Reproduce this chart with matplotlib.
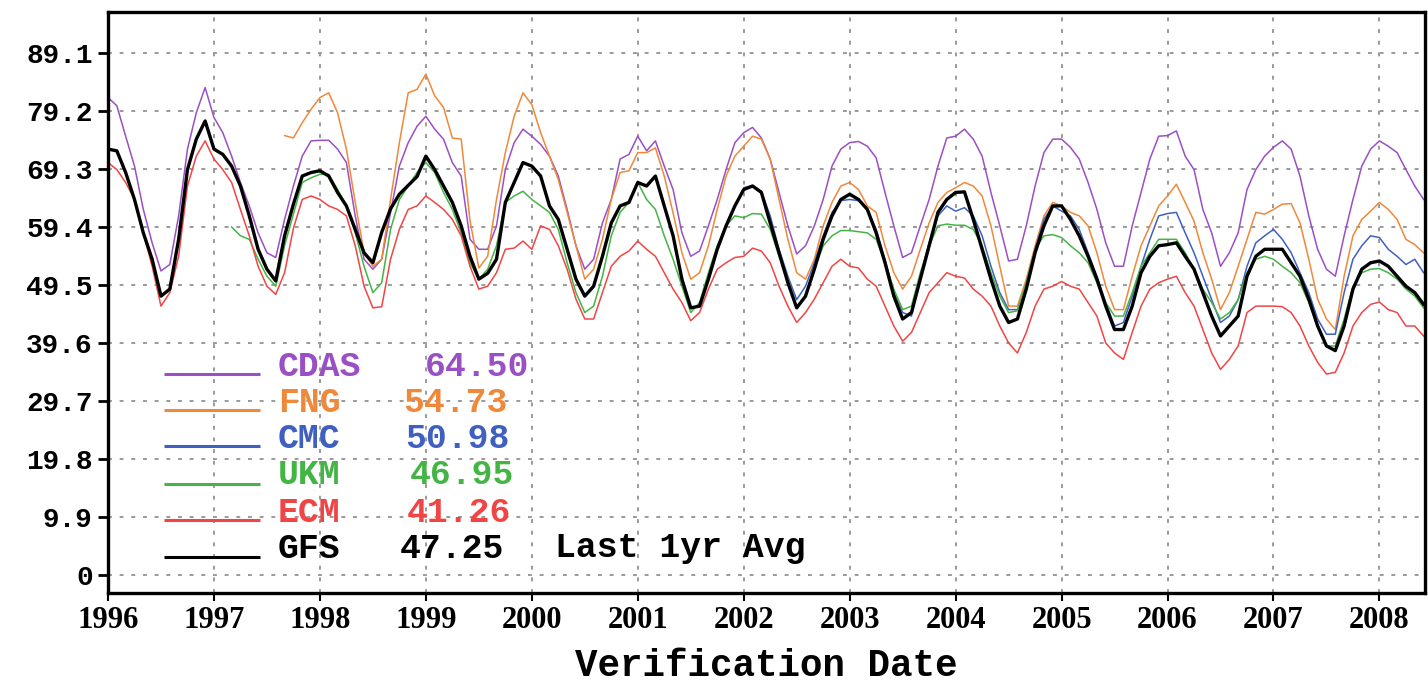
import numpy as np
import matplotlib
matplotlib.use("Agg")
import matplotlib.pyplot as plt

# monthly anomaly-correlation-like scores, Jan 1996 .. May 2008
START_YEAR = 1996
N_MONTHS = 150

CDAS = [81.5, 80.1, 74.9, 69.8, 62.4, 56.7, 51.9, 53.0, 61.3, 72.7, 78.9, 83.2,
        78.1, 75.5, 71.5, 67.0, 63.0, 58.4, 55.0, 54.2, 60.7, 66.4, 71.5, 74.1,
        74.2, 74.2, 72.7, 70.4, 61.3, 53.9, 52.2, 53.9, 61.9, 69.8, 73.8, 76.6,
        78.3, 76.1, 74.4, 70.4, 68.1, 57.3, 55.6, 55.6, 59.6, 69.2, 73.8, 76.1,
        74.9, 73.5, 71.5, 68.1, 62.4, 56.2, 52.2, 53.9, 60.1, 64.1, 71.0, 71.8,
        74.9, 72.4, 74.1, 69.8, 65.8, 58.4, 54.4, 55.3, 59.6, 64.1, 69.2, 73.8,
        75.5, 76.4, 74.6, 71.0, 65.3, 59.6, 54.8, 56.2, 59.6, 64.1, 69.8, 72.7,
        73.8, 74.0, 73.2, 71.2, 65.3, 59.6, 54.2, 55.0, 59.6, 64.1, 69.8, 74.6,
        74.9, 76.1, 74.4, 71.5, 65.3, 59.6, 53.6, 53.9, 59.6, 66.4, 72.1, 74.4,
        74.4, 73.0, 71.0, 67.0, 62.4, 56.7, 52.7, 52.7, 59.6, 65.3, 71.0, 74.9,
        75.0, 75.8, 71.5, 69.2, 62.4, 58.4, 52.7, 55.0, 58.4, 65.8, 69.2, 71.5,
        73.0, 74.1, 72.7, 68.1, 61.3, 55.6, 52.2, 51.0, 57.9, 64.1, 69.8, 72.7,
        74.1, 73.2, 72.1, 69.2, 66.4, 64.1]

FNG_START = 20
FNG = [75.0, 74.6, 77.2, 79.5,
       81.5, 82.3, 78.9, 72.7, 63.6, 55.0, 52.7, 53.9, 64.1, 73.8, 82.3, 82.9,
       85.5, 81.8, 79.8, 74.6, 74.4, 60.5, 52.4, 54.4, 64.1, 72.1, 78.3, 82.3,
       80.3, 75.5, 71.5, 67.5, 61.9, 56.2, 50.5, 52.2, 57.3, 64.1, 68.7, 69.0,
       72.1, 72.1, 72.9, 68.1, 61.8, 55.0, 50.5, 51.6, 56.2, 62.4, 68.1, 71.5,
       73.2, 74.9, 74.4, 71.0, 64.1, 57.3, 51.6, 50.5, 53.9, 59.6, 63.6, 66.4,
       67.0, 65.8, 63.0, 61.9, 56.2, 51.6, 48.8, 51.0, 55.6, 60.1, 63.6, 65.3,
       66.1, 67.0, 66.4, 64.7, 59.6, 52.7, 45.9, 45.9, 50.5, 56.2, 61.3, 63.6,
       63.0, 61.9, 61.3, 59.6, 55.0, 49.3, 45.3, 45.3, 51.0, 56.2, 59.6, 63.0,
       64.7, 66.7, 63.6, 60.4, 55.0, 50.5, 45.3, 48.2, 52.7, 57.3, 61.9, 61.6,
       62.4, 63.3, 63.4, 60.1, 53.9, 47.1, 43.7, 41.9, 51.0, 57.9, 60.7, 62.1,
       63.6, 62.4, 60.7, 57.3, 56.4, 55.0]

CMC_START = 72
CMC = [66.1, 66.5, 65.5, 61.3, 55.6, 51.0, 47.0, 49.3, 53.3, 57.9, 61.9, 63.9,
       64.1, 63.9, 62.4, 59.0, 53.9, 48.2, 44.8, 44.2, 51.0, 56.7, 61.3, 63.0,
       62.1, 62.7, 61.3, 57.9, 52.7, 48.2, 45.3, 45.3, 49.3, 55.6, 60.7, 63.0,
       62.1, 61.3, 59.0, 55.0, 51.0, 46.5, 42.5, 43.1, 47.6, 52.7, 57.3, 61.3,
       61.7, 61.9, 58.4, 55.0, 51.0, 47.0, 43.1, 44.2, 47.0, 52.7, 56.7, 57.9,
       59.0, 57.3, 55.0, 51.6, 48.2, 43.7, 41.1, 41.1, 48.2, 53.9, 56.2, 57.9,
       57.6, 55.6, 54.4, 53.0, 53.9, 51.6]

UKM_START = 14
UKM = [59.4, 57.9, 57.3, 53.9, 51.0, 49.3, 56.2, 61.6, 67.0, 67.8,
       68.4, 68.4, 65.8, 63.0, 58.4, 52.7, 48.2, 49.9, 59.0, 64.1, 66.4, 68.7,
       70.4, 68.7, 65.3, 62.4, 58.4, 53.3, 50.5, 52.2, 56.2, 63.6, 64.7, 65.5,
       64.1, 63.0, 61.9, 59.0, 53.3, 48.2, 44.8, 45.9, 51.0, 57.9, 61.9, 63.6,
       67.0, 64.1, 62.4, 57.9, 53.9, 49.3, 44.8, 46.5, 51.6, 56.2, 59.6, 61.3,
       61.0, 61.7, 61.6, 59.0, 54.4, 50.5, 45.6, 47.6, 52.2, 56.2, 57.9, 58.8,
       58.8, 58.6, 58.4, 57.3, 53.3, 48.8, 45.3, 45.9, 51.6, 56.2, 59.6, 59.9,
       59.7, 59.7, 59.0, 56.2, 51.6, 47.6, 44.8, 45.1, 49.9, 55.6, 57.9, 58.1,
       57.6, 56.2, 55.0, 53.3, 49.9, 46.5, 44.2, 44.2, 48.2, 52.7, 55.0, 57.3,
       57.3, 57.3, 55.0, 52.2, 48.8, 46.5, 43.7, 44.8, 47.0, 51.6, 53.9, 54.4,
       53.9, 52.7, 51.6, 49.9, 46.5, 42.5, 39.1, 39.1, 43.7, 49.3, 51.6, 52.2,
       52.3, 51.6, 50.5, 48.8, 47.6, 45.6]

ECM = [70.4, 69.2, 67.0, 64.1, 58.4, 52.7, 45.9, 48.2, 54.4, 66.4, 71.5, 74.1,
       71.0, 69.2, 67.0, 62.4, 57.9, 52.7, 49.3, 47.9, 51.6, 59.2, 64.1, 64.7,
       64.1, 63.0, 62.4, 61.3, 56.2, 49.3, 45.6, 45.8, 53.9, 59.0, 62.4, 63.0,
       64.7, 63.6, 62.4, 60.7, 57.9, 52.7, 48.8, 49.3, 51.6, 55.6, 55.8, 57.0,
       55.6, 59.6, 59.0, 56.2, 52.2, 47.1, 43.7, 43.7, 48.2, 52.7, 54.4, 55.3,
       57.0, 55.6, 54.4, 51.6, 48.8, 46.5, 43.4, 44.8, 48.8, 52.2, 53.3, 54.2,
       54.4, 55.8, 55.3, 53.3, 49.3, 45.9, 43.1, 44.8, 47.1, 49.9, 52.7, 53.9,
       52.7, 52.4, 50.5, 49.3, 45.9, 42.5, 39.9, 41.4, 44.8, 48.2, 49.9, 51.6,
       51.0, 50.7, 48.8, 47.6, 45.9, 42.5, 39.6, 37.9, 41.4, 45.9, 48.8, 49.3,
       50.1, 49.3, 48.8, 46.5, 44.2, 39.6, 37.9, 36.8, 41.4, 45.9, 48.8, 49.9,
       50.5, 51.0, 48.2, 45.9, 41.9, 37.9, 35.1, 36.8, 39.1, 44.8, 45.9, 45.9,
       45.9, 45.8, 44.8, 42.5, 39.1, 36.3, 34.3, 34.6, 37.9, 42.5, 44.8, 46.2,
       46.6, 45.3, 44.8, 42.5, 42.5, 40.8]

GFS = [72.7, 72.4, 68.7, 64.1, 58.4, 53.9, 47.6, 48.8, 57.3, 69.2, 74.4, 77.5,
       72.7, 71.8, 69.8, 66.4, 61.3, 55.6, 52.2, 50.2, 57.9, 63.3, 68.1, 68.7,
       69.0, 68.1, 65.3, 63.0, 59.0, 55.0, 53.3, 58.5, 62.5, 65.0, 66.5, 68.0,
       71.5, 69.2, 66.4, 63.6, 59.6, 54.4, 50.5, 51.5, 53.9, 63.6, 67.0, 70.4,
       69.8, 68.1, 63.0, 60.7, 55.6, 50.5, 47.6, 49.3, 54.4, 60.1, 63.0, 63.6,
       67.0, 66.4, 68.1, 63.0, 57.9, 50.5, 45.6, 45.9, 50.5, 55.6, 59.6, 63.0,
       65.8, 66.4, 65.3, 60.1, 55.0, 49.9, 45.6, 47.6, 52.2, 57.3, 61.3, 64.1,
       65.0, 64.1, 62.4, 58.4, 53.3, 47.6, 43.7, 44.8, 50.5, 56.2, 61.9, 64.1,
       65.3, 65.4, 60.7, 55.6, 50.5, 45.9, 43.1, 43.7, 48.8, 55.0, 59.6, 63.0,
       63.0, 60.7, 57.9, 54.4, 50.5, 45.9, 41.9, 41.9, 45.9, 51.6, 54.4, 56.2,
       56.4, 56.7, 54.4, 52.2, 48.2, 44.2, 40.8, 42.5, 44.2, 51.0, 54.4, 55.6,
       55.6, 55.6, 53.3, 51.0, 47.1, 42.5, 39.1, 38.3, 42.5, 48.8, 52.2, 53.3,
       53.6, 52.7, 51.0, 49.3, 48.2, 46.2]

NAMES = ["CDAS", "FNG", "CMC", "UKM", "ECM", "GFS"]
AVG_1YR = ["64.50", "54.73", "50.98", "46.95", "41.26", "47.25"]
COLORS = ["#9a4fc4", "#f0883a", "#3f60c0", "#44b444", "#f04545", "black"]
Y_TICKS = [0, 9.9, 19.8, 29.7, 39.6, 49.5, 59.4, 69.3, 79.2, 89.1]
YEARS = list(range(1996, 2009))


def pad(vals, start):
    out = np.full(N_MONTHS, np.nan)
    out[start:start + len(vals)] = vals
    return out


series = [pad(CDAS, 0), pad(FNG, FNG_START), pad(CMC, CMC_START),
          pad(UKM, UKM_START), pad(ECM, 0), pad(GFS, 0)]
t = START_YEAR + np.arange(N_MONTHS) / 12.0

W, H = 1428, 688
fig = plt.figure(figsize=(W / 100, H / 100), dpi=100)
L, R, T, B = 108, 1425, 12, 593
ax = fig.add_axes([L / W, (H - B) / H, (R - L) / W, (B - T) / H])

for vals, col in zip(series, COLORS):
    lw = 2.4 if col == "black" else 1.1
    ax.plot(t, vals, color=col, lw=lw, zorder=3 if col == "black" else 2)

ax.set_xlim(1996, 2008.43)
ax.set_ylim(-3.07, 96.1)
ax.set_yticks(Y_TICKS)
ax.set_yticklabels(["0" if v == 0 else f"{v:.1f}" for v in Y_TICKS],
                   family="Liberation Mono", weight="bold", fontsize=20)
ax.set_xticks(YEARS)
ax.set_xticklabels([str(y) for y in YEARS], family="Liberation Serif",
                   weight="bold", fontsize=22)
ax.tick_params(axis="y", direction="out", length=7, width=2, pad=4)
ax.tick_params(axis="x", direction="out", length=6, width=1.5, pad=3)
ax.grid(True, color="#9a9a9a", linestyle=(0, (2, 4)), linewidth=1.4)
for sp in ax.spines.values():
    sp.set_linewidth(2.4)

ax.set_xlabel("Verification Date", family="Liberation Mono", weight="bold",
              fontsize=27, labelpad=10)


# legend drawn by hand, pixel positions of the reference
def axfrac(px, py):
    return (px - L) / (R - L), (B - py) / (B - T)


line_y = [374, 410, 446, 484, 520, 557]
text_y = [366, 402, 438, 475, 512, 548]
val_x = [425, 403, 405, 410, 407, 400]
for name, avg, col, ly, ty, vx in zip(NAMES, AVG_1YR, COLORS, line_y, text_y, val_x):
    x0, y0 = axfrac(164, ly)
    x1, _ = axfrac(260, ly)
    ax.plot([x0, x1], [y0, y0], color=col, lw=2.2, transform=ax.transAxes,
            solid_capstyle="butt", zorder=4)
    nx, ny = axfrac(278, ty)
    ax.text(nx, ny, name, color=col, transform=ax.transAxes, va="center",
            ha="left", family="Liberation Mono", weight="bold", fontsize=25,
            zorder=5)
    vxx, _ = axfrac(vx, ty)
    ax.text(vxx, ny, avg, color=col, transform=ax.transAxes, va="center",
            ha="left", family="Liberation Mono", weight="bold", fontsize=25,
            zorder=5)

lx, lyy = axfrac(555, text_y[-1])
ax.text(lx, lyy, "Last 1yr Avg", color="black", transform=ax.transAxes,
        va="center", ha="left", family="Liberation Mono", weight="bold",
        fontsize=25, zorder=5)

fig.savefig("out.png", dpi=100)
